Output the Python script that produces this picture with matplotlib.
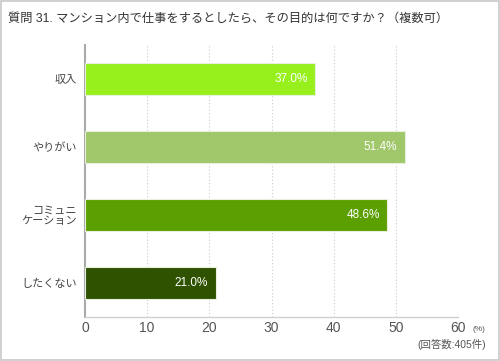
import matplotlib.pyplot as plt
from matplotlib.patches import Rectangle

plt.rcParams['font.family'] = ['Liberation Sans', 'Noto Sans CJK JP', 'DejaVu Sans']

categories = ['収入', 'やりがい', 'コミュニ\nケーション', 'したくない']
values = [37.0, 51.4, 48.6, 21.0]
colors = ['#97ef1c', '#a0c76a', '#5c9f00', '#2e5200']
xticks = [0, 10, 20, 30, 40, 50, 60]

fig = plt.figure(figsize=(5, 3.61), dpi=100)
fig.patches.append(Rectangle((0.002, 0.003), 0.996, 0.994, transform=fig.transFigure,
                             fill=False, edgecolor='#c8c8c8', linewidth=1.2))

ax = fig.add_axes([0.17, 0.122, 0.746, 0.753])
y = list(range(len(categories)))
ax.barh(y, values, height=0.46, color=colors, edgecolor='#e6f0dc', linewidth=0.8, zorder=3)
ax.set_ylim(len(categories) - 0.5, -0.5)
ax.set_xlim(0, 60)
ax.set_xticks(xticks)
ax.set_xticklabels([str(t) for t in xticks], fontsize=10, color='#555555')
ax.set_yticks(y)
ax.set_yticklabels(categories, fontsize=8, color='#444444', linespacing=1.05)
ax.tick_params(axis='x', length=0, pad=3)
ax.tick_params(axis='y', length=0, pad=6)
ax.grid(axis='x', color='#cccccc', linestyle=(0, (1, 2)), linewidth=0.8, zorder=0)
for s in ['top', 'right']:
    ax.spines[s].set_visible(False)
ax.spines['left'].set_color('#aaaaaa')
ax.spines['left'].set_linewidth(1.5)
ax.spines['bottom'].set_color('#d0d0d0')
ax.spines['bottom'].set_linewidth(1.0)

for yi, v in zip(y, values):
    ax.text(v - 1.2, yi, f'{v:.1f}%', ha='right', va='center', color='white',
            fontsize=8.5, zorder=4)

fig.text(0.016, 0.947, '質問 31. マンション内で仕事をするとしたら、その目的は何ですか？（複数可）',
         fontsize=8.8, color='#333333', ha='left', va='center')
fig.text(0.958, 0.088, '(%)', fontsize=6, color='#555555', ha='center', va='center')
fig.text(0.972, 0.045, '(回答数:405件)', fontsize=7.5, color='#555555', ha='right', va='center')

fig.savefig('out.png', dpi=100)
